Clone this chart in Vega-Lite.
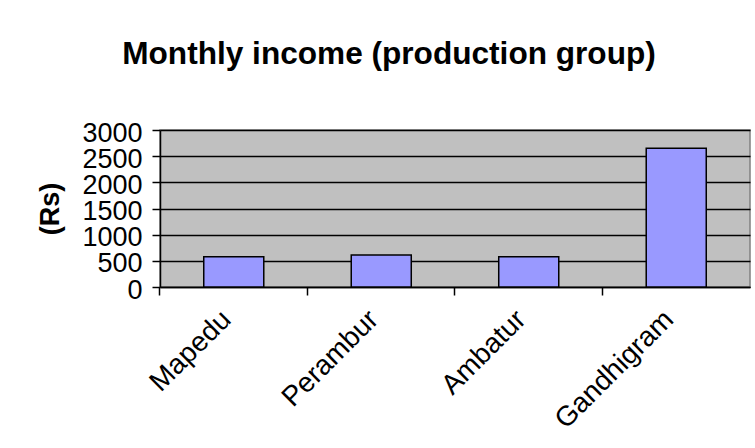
{
  "$schema": "https://vega.github.io/schema/vega-lite/v6.json",
  "autosize": "none",
  "width": 590,
  "height": 157,
  "padding": {"left": 160, "top": 130, "right": 5, "bottom": 161},
  "background": "white",
  "title": {
    "text": "Monthly income (production group)",
    "font": "Liberation Sans",
    "fontSize": 31.6,
    "fontWeight": "bold",
    "color": "black",
    "anchor": "middle",
    "dx": -66,
    "offset": 48
  },
  "data": {
    "values": [
      {"site": "Mapedu", "income": 580},
      {"site": "Perambur", "income": 610},
      {"site": "Ambatur", "income": 580},
      {"site": "Gandhigram", "income": 2650}
    ]
  },
  "mark": {"type": "bar", "fill": "#9999FF", "stroke": "black", "strokeWidth": 1.5},
  "encoding": {
    "x": {
      "field": "site",
      "type": "nominal",
      "sort": null,
      "scale": {"paddingInner": 0.593, "paddingOuter": 0.2966},
      "axis": {
        "title": null,
        "labelAngle": -45,
        "labelAlign": "right",
        "labelBaseline": "middle",
        "labelFont": "Liberation Sans",
        "labelFontSize": 28,
        "labelColor": "black",
        "labelPadding": 20,
        "labelOffset": -7,
        "bandPosition": -0.729,
        "tickSize": 8,
        "tickColor": "black",
        "tickWidth": 1.5,
        "domainColor": "black",
        "domainWidth": 1.5,
        "grid": false
      }
    },
    "y": {
      "field": "income",
      "type": "quantitative",
      "scale": {"domain": [0, 3000], "nice": false},
      "axis": {
        "title": "(Rs)",
        "titleFont": "Liberation Sans",
        "titleFontSize": 27,
        "titleFontWeight": "bold",
        "titleColor": "black",
        "titlePadding": 17,
        "values": [0, 500, 1000, 1500, 2000, 2500, 3000],
        "format": "d",
        "labelFont": "Liberation Sans",
        "labelFontSize": 27,
        "labelColor": "black",
        "labelPadding": 10,
        "labelOffset": 3,
        "labelOverlap": false,
        "tickSize": 8,
        "tickColor": "black",
        "tickWidth": 1.5,
        "domainColor": "black",
        "domainWidth": 1.5,
        "grid": true,
        "gridColor": "black",
        "gridWidth": 1.5
      }
    }
  },
  "config": {
    "view": {"fill": "#C0C0C0", "stroke": "#808080", "strokeWidth": 1.5}
  }
}
